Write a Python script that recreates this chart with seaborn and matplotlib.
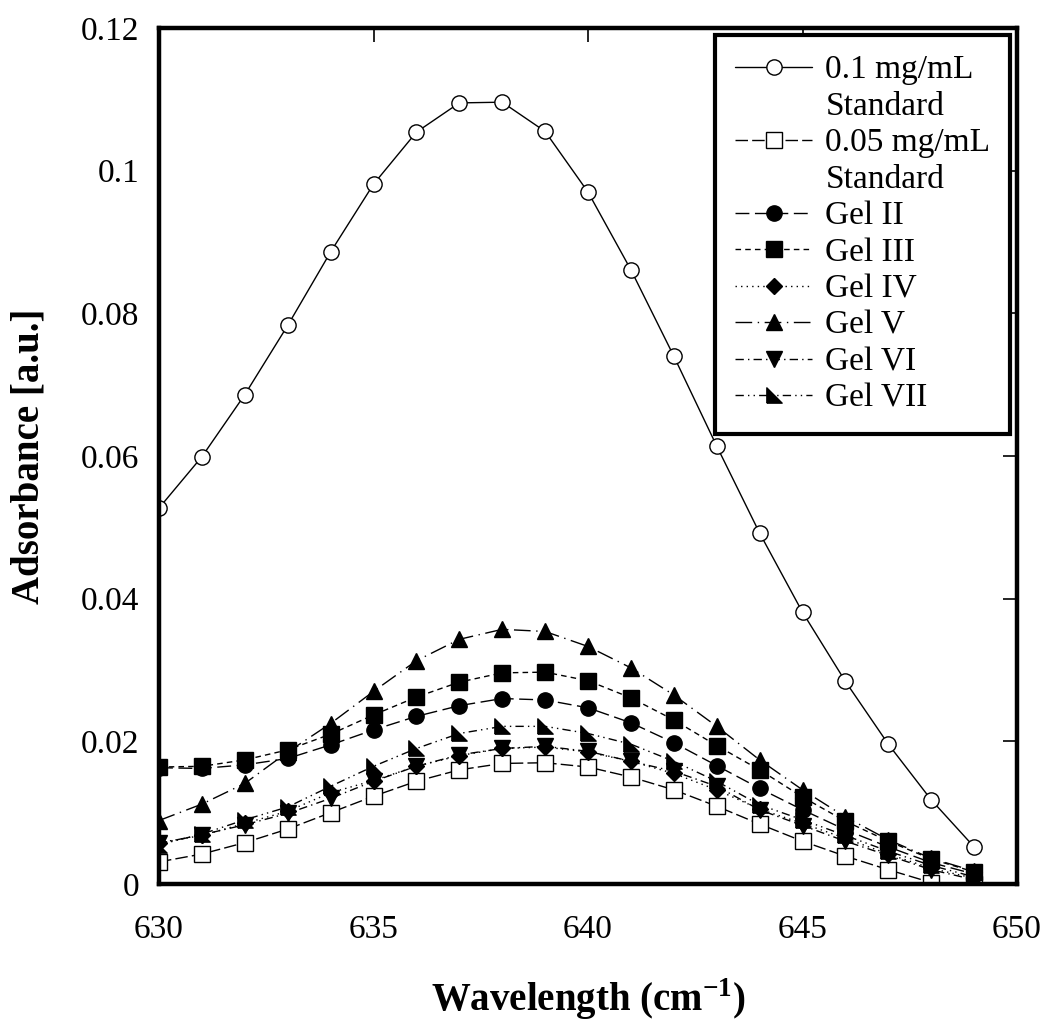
import numpy as np
import pandas as pd
import matplotlib
matplotlib.use("Agg")
import matplotlib.pyplot as plt
from matplotlib.lines import Line2D
import seaborn as sns

# wavelength grid (cm-1)
wavelength = list(range(630, 650))

# absorbance values
std_01 = [0.0527, 0.0599, 0.0686, 0.0783, 0.0886, 0.0981, 0.1054, 0.1095, 0.1096, 0.1055,
          0.0970, 0.0861, 0.0740, 0.0614, 0.0492, 0.0381, 0.0284, 0.0196, 0.0118, 0.0052]
std_005 = [0.0031, 0.0042, 0.0058, 0.0077, 0.0100, 0.0123, 0.0144, 0.0160, 0.0169, 0.0170,
           0.0164, 0.0150, 0.0132, 0.0109, 0.0084, 0.0060, 0.0039, 0.0020, 0.0002, 0.0000]
gel_2 = [0.0163, 0.0162, 0.0167, 0.0176, 0.0195, 0.0216, 0.0235, 0.0250, 0.0260, 0.0258,
         0.0247, 0.0226, 0.0198, 0.0166, 0.0134, 0.0104, 0.0076, 0.0052, 0.0030, 0.0014]
gel_3 = [0.0164, 0.0165, 0.0174, 0.0188, 0.0210, 0.0237, 0.0262, 0.0283, 0.0296, 0.0297,
         0.0285, 0.0261, 0.0230, 0.0194, 0.0160, 0.0122, 0.0088, 0.0060, 0.0035, 0.0017]
gel_4 = [0.0058, 0.0068, 0.0085, 0.0102, 0.0128, 0.0145, 0.0165, 0.0180, 0.0190, 0.0192,
         0.0185, 0.0172, 0.0155, 0.0132, 0.0105, 0.0085, 0.0064, 0.0042, 0.0022, 0.0008]
gel_5 = [0.0089, 0.0112, 0.0141, 0.0185, 0.0225, 0.0270, 0.0313, 0.0343, 0.0357, 0.0354,
         0.0333, 0.0303, 0.0265, 0.0221, 0.0174, 0.0132, 0.0094, 0.0062, 0.0036, 0.0018]
gel_6 = [0.0057, 0.0069, 0.0083, 0.0099, 0.0120, 0.0144, 0.0165, 0.0181, 0.0190, 0.0193,
         0.0186, 0.0172, 0.0158, 0.0137, 0.0104, 0.0082, 0.0060, 0.0040, 0.0020, 0.0006]
gel_7 = [0.0055, 0.0070, 0.0090, 0.0108, 0.0137, 0.0165, 0.0190, 0.0211, 0.0221, 0.0221,
         0.0211, 0.0196, 0.0172, 0.0144, 0.0111, 0.0090, 0.0068, 0.0046, 0.0026, 0.0010]

labels = ["0.1 mg/mL", "0.05 mg/mL", "Gel II", "Gel III", "Gel IV", "Gel V", "Gel VI", "Gel VII"]
series = [std_01, std_005, gel_2, gel_3, gel_4, gel_5, gel_6, gel_7]

# right triangle marker (vertical left edge, flat bottom)
tri_corner = [(-1, -1), (-1, 1), (1, -1), (-1, -1)]

styles = [
    dict(marker="o", mfc="white", ls="-"),
    dict(marker="s", mfc="white", ls=(0, (9, 3))),
    dict(marker="o", mfc="black", ls=(0, (10, 4))),
    dict(marker="s", mfc="black", ls=(0, (4, 3))),
    dict(marker="D", mfc="black", ls=(0, (1, 3)), ms=8),
    dict(marker="^", mfc="black", ls=(0, (12, 4, 1, 4))),
    dict(marker="v", mfc="black", ls=(0, (6, 3, 1, 3))),
    dict(marker=tri_corner, mfc="black", ls=(0, (6, 3, 1, 3, 1, 3))),
]

sns.set_style("white")
plt.rcParams["font.family"] = ["Liberation Serif", "DejaVu Serif"]
plt.rcParams["mathtext.fontset"] = "custom"
plt.rcParams["mathtext.rm"] = "Liberation Serif"
plt.rcParams["mathtext.bf"] = "Liberation Serif:bold"
plt.rcParams["text.color"] = "black"
plt.rcParams["axes.labelcolor"] = "black"

fig = plt.figure(figsize=(10.5, 10.26), dpi=100)
ax = fig.add_axes([159 / 1050, 142 / 1026, 858 / 1050, 856 / 1026])

for lab, vals, st in zip(labels, series, styles):
    df = pd.DataFrame({"wavelength": wavelength, "absorbance": vals})
    sns.lineplot(data=df, x="wavelength", y="absorbance", ax=ax, errorbar=None,
                 color="black", linewidth=1.0, linestyle=st["ls"],
                 marker=st["marker"], markersize=st.get("ms", 11),
                 markerfacecolor=st["mfc"], markeredgecolor="black",
                 markeredgewidth=1.0, label=lab)

ax.set_xlim(630, 650)
ax.set_ylim(0, 0.12)
ax.set_xticks([630, 635, 640, 645, 650])
ax.set_yticks([0, 0.02, 0.04, 0.06, 0.08, 0.1, 0.12])
ax.set_yticklabels(["0", "0.02", "0.04", "0.06", "0.08", "0.1", "0.12"])
ax.tick_params(axis="both", direction="in", length=10, width=1.2, labelsize=24,
               top=True, right=True, colors="black", labelcolor="black")
ax.tick_params(axis="x", pad=22)
ax.tick_params(axis="y", pad=14)
for sp in ax.spines.values():
    sp.set_linewidth(3.2)
    sp.set_color("black")

ax.set_xlabel(r"Wavelength (cm$^{\mathbf{-1}}$)", fontsize=28, fontweight="bold", labelpad=22)
ax.set_ylabel("Adsorbance [a.u.]", fontsize=28, fontweight="bold", labelpad=24)

# legend: standards carry a second text line "Standard"
handles, labs = ax.get_legend_handles_labels()
blank = Line2D([], [], linestyle="none", marker=None)
handles = handles[:1] + [blank] + handles[1:2] + [blank] + handles[2:]
labs = labs[:1] + ["Standard"] + labs[1:2] + ["Standard"] + labs[2:]
leg = ax.legend(handles, labs, loc="upper right", fontsize=24, frameon=True,
                fancybox=False, edgecolor="black", framealpha=1,
                handlelength=2.3, handletextpad=0.4, labelspacing=0.18,
                borderpad=0.6, borderaxespad=0.2)
leg.get_frame().set_linewidth(3)

fig.savefig("out.png", dpi=100)
